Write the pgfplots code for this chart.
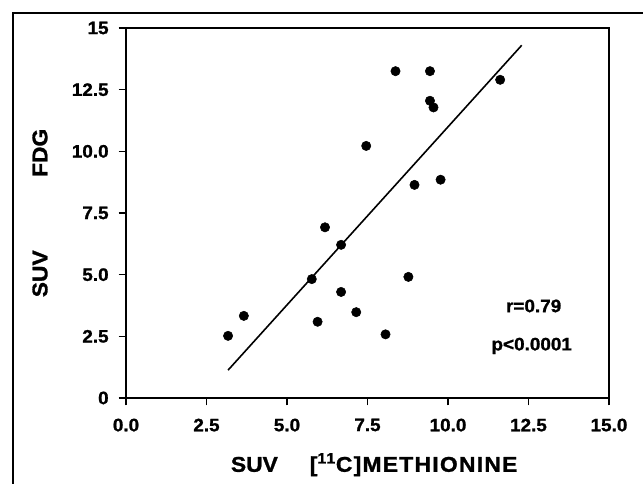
\documentclass[border=0pt]{standalone}
\usepackage{fontspec}
\setmainfont{Liberation Sans}[BoldFeatures={FakeBold=1.2}]
\newfontfamily\tickfont{Liberation Sans Bold}[FakeStretch=1.05, FakeBold=1.2]
\newfontfamily\lblfont{Liberation Sans Bold}[FakeStretch=1.07, FakeBold=1.3]
\usepackage{pgfplots}
\pgfplotsset{compat=1.18}

\pgfplotstableread{
x y
3.17 2.52
3.66 3.33
5.77 4.82
6.18 6.92
6.68 6.21
6.68 4.30
5.95 3.09
7.15 3.48
8.06 2.58
8.77 4.91
8.96 8.64
9.77 8.85
7.46 10.22
8.37 13.25
9.44 13.25
9.44 12.05
9.55 11.78
11.62 12.90
}\suvdata

\begin{document}
\begin{tikzpicture}
% page = 643x483 px at 0.75pt/px, origin at the axis corner
\path[use as bounding box] (-94.5pt,-63.75pt) rectangle (387.75pt,298.5pt);
\draw[line width=1.4pt] (-84.75pt,-80pt) -- (-84.75pt,288.75pt) -- (420pt,288.75pt);
\begin{axis}[
    at={(0,0)}, anchor=south west,
    scale only axis,
    width=362.25pt, height=277.5pt,
    xmin=0, xmax=15, ymin=0, ymax=15,
    xtick={0,2.5,5,7.5,10,12.5,15},
    ytick={0,2.5,5,7.5,10,12.5,15},
    xticklabels={0.0,2.5,5.0,7.5,10.0,12.5,15.0},
    yticklabels={0,2.5,5.0,7.5,10.0,12.5,15},
    xtick pos=bottom, ytick pos=left,
    tick align=outside,
    major tick length=5.5pt,
    every tick/.style={black, line width=1.2pt},
    axis line style={line width=1.2pt},
    tick label style={font=\tickfont\fontsize{13.5}{15}\selectfont},
    xticklabel style={yshift=-6.5pt},
    yticklabel style={xshift=-4pt},
    xlabel={SUV\hspace{24pt}{\addfontfeature{LetterSpace=6}[\textsuperscript{11}C]METHIONINE}},
    ylabel={SUV\hspace{55pt}FDG},
    label style={font=\lblfont\fontsize{16}{18}\selectfont},
    xlabel style={at={([yshift=-50pt]rel axis cs:0.5,0)}, anchor=center, xshift=5pt},
    ylabel style={at={([xshift=-64.5pt]rel axis cs:0,0.5)}, anchor=center},
    clip=false,
]
\addplot[only marks, mark=*, mark size=3.5pt, black] table[x=x, y=y] {\suvdata};
\addplot[black, line width=1.2pt] coordinates {(3.17,1.13) (12.29,14.30)};
\node[font=\tickfont\fontsize{13.5}{15}\selectfont] at (axis cs:12.66,3.73) {r=0.79};
\node[font=\tickfont\fontsize{13.5}{15}\selectfont] at (axis cs:12.6,2.11) {p<0.0001};
\end{axis}
\end{tikzpicture}
\end{document}
